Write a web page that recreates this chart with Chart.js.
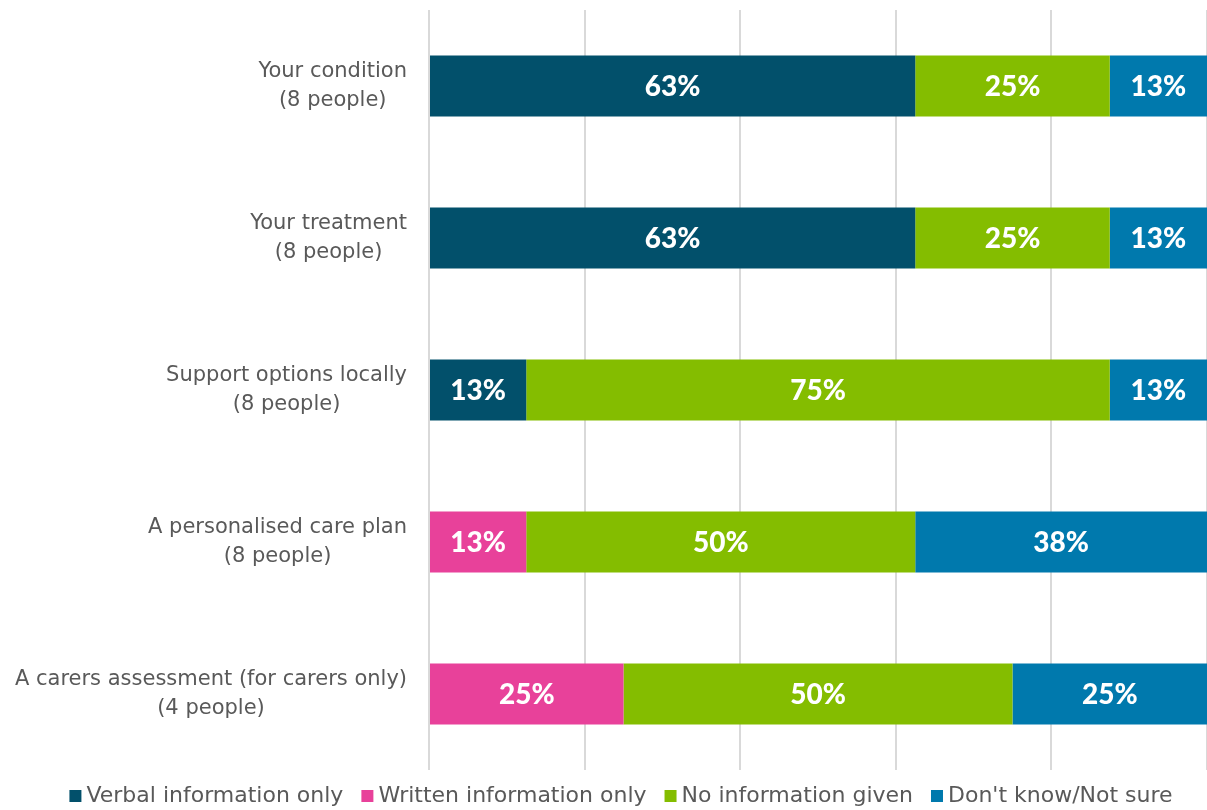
<!DOCTYPE html>
<html>
<head>
<meta charset="utf-8">
<script src="https://cdn.jsdelivr.net/npm/chart.js@4/dist/chart.umd.min.js"></script>
<style>
  html, body { margin: 0; padding: 0; background: #fff; }
  #wrap { width: 1207px; height: 810px; position: relative; }
</style>
</head>
<body>
<div id="wrap"><canvas id="infoChart"></canvas></div>
<script>
const categories = [
  ["Your condition", "(8 people)"],
  ["Your treatment", "(8 people)"],
  ["Support options locally", "(8 people)"],
  ["A personalised care plan", "(8 people)"],
  ["A carers assessment (for carers only)", "(4 people)"],
];

// share of respondents per category, in percent
const verbalOnly   = [62.5, 62.5, 12.5, 0,    0];
const writtenOnly  = [0,    0,    0,    12.5, 25];
const noInfo       = [25,   25,   75,   50,   50];
const dontKnow     = [12.5, 12.5, 12.5, 37.5, 25];

const seriesNames = ["Verbal information only", "Written information only", "No information given", "Don't know/Not sure"];
const seriesColors = ["#02506B", "#E8419A", "#84BD00", "#0079AD"];

const TEXT = "#595959";
const LABEL_FONT = "DejaVu Sans, Verdana, sans-serif";

// white percentage labels in the middle of each segment
const segmentLabels = {
  id: "segmentLabels",
  afterDatasetsDraw(chart) {
    const ctx = chart.ctx;
    ctx.save();
    ctx.fillStyle = "#fff";
    ctx.font = "900 28px Lato, sans-serif";
    ctx.textAlign = "center";
    ctx.textBaseline = "middle";
    chart.data.datasets.forEach((ds, i) => {
      const meta = chart.getDatasetMeta(i);
      meta.data.forEach((bar, j) => {
        const v = ds.data[j];
        if (!v) return;
        ctx.fillText(Math.round(v) + "%", (bar.x + bar.base) / 2, bar.y + 1);
      });
    });
    ctx.restore();
  }
};

// category names, each block centred on its widest line
const categoryLabels = {
  id: "categoryLabels",
  afterDraw(chart) {
    const ctx = chart.ctx;
    const y = chart.scales.y;
    const right = chart.chartArea.left - 22;
    const lineH = 29;
    ctx.save();
    ctx.fillStyle = TEXT;
    ctx.font = "21px " + LABEL_FONT;
    ctx.textAlign = "center";
    ctx.textBaseline = "middle";
    categories.forEach((lines, i) => {
      const w = Math.max(...lines.map(l => ctx.measureText(l).width));
      const cx = right - w / 2;
      const cy = y.getPixelForValue(i);
      const top = cy - (lines.length - 1) * lineH / 2;
      lines.forEach((l, k) => ctx.fillText(l, cx, top + k * lineH));
    });
    ctx.restore();
  }
};

// legend row under the plot: small square, tight gap, then the name
const legendRow = {
  id: "legendRow",
  afterDraw(chart) {
    const ctx = chart.ctx;
    const box = 12, gap = 5, spacing = 18;
    const yMid = chart.chartArea.bottom + 26;
    ctx.save();
    ctx.font = "22px " + LABEL_FONT;
    ctx.textBaseline = "middle";
    ctx.textAlign = "left";
    const widths = seriesNames.map(n => ctx.measureText(n).width);
    const total = widths.reduce((a, w) => a + box + gap + w, 0) + spacing * (seriesNames.length - 1);
    let x = 621 - total / 2;
    seriesNames.forEach((n, i) => {
      ctx.fillStyle = seriesColors[i];
      ctx.fillRect(x, yMid - box / 2, box, box);
      ctx.fillStyle = TEXT;
      ctx.fillText(n, x + box + gap, yMid);
      x += box + gap + widths[i] + spacing;
    });
    ctx.restore();
  }
};

const datasets = [verbalOnly, writtenOnly, noInfo, dontKnow].map((data, i) => ({
  label: seriesNames[i],
  data,
  backgroundColor: seriesColors[i],
  borderWidth: 0,
  barPercentage: 0.4,
  categoryPercentage: 1,
}));

new Chart(document.getElementById("infoChart"), {
  type: "bar",
  data: { labels: categories.map(c => c.join(" ")), datasets },
  options: {
    indexAxis: "y",
    responsive: true,
    maintainAspectRatio: false,
    animation: false,
    layout: { padding: { top: 10, right: 0, bottom: 40, left: 0 } },
    plugins: {
      legend: { display: false },
      tooltip: { enabled: false },
    },
    scales: {
      x: {
        stacked: true,
        min: 0,
        max: 100,
        ticks: { display: false, stepSize: 20 },
        grid: { color: "#D9D9D9", lineWidth: 2, drawTicks: false },
        border: { display: false },
      },
      y: {
        stacked: true,
        ticks: { display: false },
        grid: { display: false },
        border: { display: false },
        afterFit(scale) { scale.width = 429; },
      }
    }
  },
  plugins: [segmentLabels, categoryLabels, legendRow]
});
</script>
</body>
</html>
